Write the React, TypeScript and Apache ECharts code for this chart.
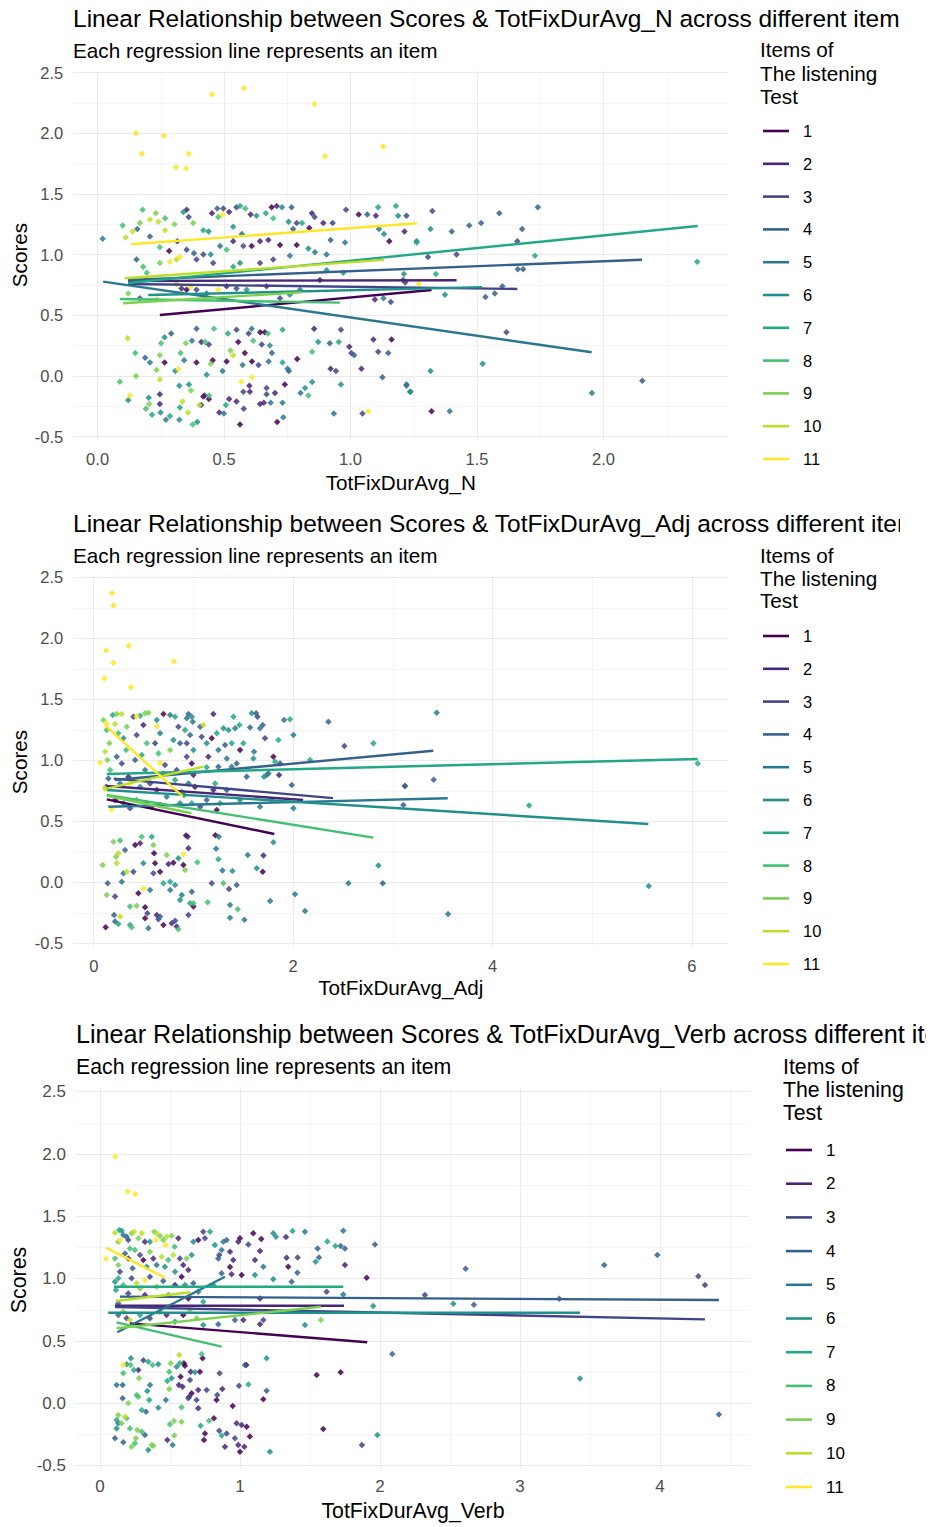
import React, { useEffect, useRef } from "react";
import * as echarts from "echarts";

// ---------------- data ----------------
const ITEMS = [1, 2, 3, 4, 5, 6, 7, 8, 9, 10, 11];
const ITEM_COLORS = ["#440154", "#482576", "#414487", "#35608D", "#2A788E", "#21908C", "#22A884", "#43BF71", "#7AD151", "#BBDF27", "#FDE725"];

const TITLE_N = "Linear Relationship between Scores & TotFixDurAvg_N across different items";
const TITLE_ADJ = "Linear Relationship between Scores & TotFixDurAvg_Adj across different items";
const TITLE_VERB = "Linear Relationship between Scores & TotFixDurAvg_Verb across different items";
const SUBTITLE = "Each regression line represents an item";
const LEGEND_TITLE = ["Items of", "The listening", "Test"];

const Y_TICKS = [-0.5, 0, 0.5, 1, 1.5, 2, 2.5];
const Y_MINOR = [-0.25, 0.25, 0.75, 1.25, 1.75, 2.25];
const X_TICKS_N = [0, 0.5, 1, 1.5, 2];
const X_MINOR_N = [0.25, 0.75, 1.25, 1.75, 2.25];
const X_TICKS_ADJ = [0, 2, 4, 6];
const X_MINOR_ADJ = [1, 3, 5];
const X_TICKS_VERB = [0, 1, 2, 3, 4];
const X_MINOR_VERB = [0.5, 1.5, 2.5, 3.5, 4.5];

// regression lines: [item, x0, y0, x1, y1]
const LINES_N = [
  [1, 0.246, 0.502, 1.32, 0.708],
  [2, 0.12, 0.783, 1.419, 0.789],
  [3, 0.12, 0.758, 1.659, 0.717],
  [4, 0.12, 0.791, 2.152, 0.958],
  [5, 0.022, 0.777, 1.953, 0.195],
  [6, 0.2, 0.667, 1.52, 0.732],
  [7, 0.12, 0.766, 2.372, 1.236],
  [8, 0.088, 0.634, 0.958, 0.604],
  [9, 0.101, 0.599, 0.806, 0.689],
  [10, 0.108, 0.805, 1.133, 0.956],
  [11, 0.132, 1.085, 1.262, 1.258],
];
const LINES_ADJ = [
  [1, 0.131, 0.68, 1.811, 0.396],
  [2, 0.13, 0.79, 2.1, 0.675],
  [3, 0.2, 0.85, 2.4, 0.69],
  [4, 0.214, 0.839, 3.406, 1.079],
  [5, 0.146, 0.62, 3.551, 0.689],
  [6, 0.13, 0.757, 5.563, 0.478],
  [7, 0.13, 0.888, 6.058, 1.011],
  [8, 0.13, 0.716, 2.804, 0.366],
  [9, 0.13, 0.71, 0.98, 0.566],
  [10, 0.096, 0.762, 1.099, 0.948],
  [11, 0.113, 1.289, 0.893, 0.702],
];
const LINES_VERB = [
  [1, 0.214, 0.642, 1.909, 0.49],
  [2, 0.107, 0.783, 1.743, 0.783],
  [3, 0.107, 0.772, 4.321, 0.674],
  [4, 0.143, 0.856, 4.421, 0.829],
  [5, 0.124, 0.57, 0.893, 1.016],
  [6, 0.059, 0.727, 3.429, 0.727],
  [7, 0.1, 0.936, 1.738, 0.936],
  [8, 0.119, 0.65, 0.869, 0.455],
  [9, 0.119, 0.602, 1.579, 0.775],
  [10, 0.114, 0.821, 0.643, 0.891],
  [11, 0.043, 1.249, 0.464, 1.008],
];

// scatter points: [x, y, item]
const POINTS_N = [
  [0.152, 2.0, 11], [0.262, 1.98, 11], [0.175, 1.83, 11], [0.36, 1.83, 11], [0.31, 1.72, 11], [0.35, 1.71, 11], [0.452, 2.32, 11], [0.578, 2.37, 11], [0.858, 2.24, 11], [0.899, 1.81, 11], [1.128, 1.89, 11], [0.494, 1.33, 11], [0.325, 0.98, 11], [0.368, 0.735, 11], [0.477, 0.71, 11], [0.568, -0.047, 11], [0.61, -0.01, 11], [0.319, 0.055, 11], [0.128, -0.16, 11], [1.07, -0.29, 11], [0.286, 0.94, 11], [1.27, 0.76, 11],
  [0.02, 1.13, 5], [0.099, 1.24, 8], [0.111, 1.14, 10], [0.138, 1.19, 10], [0.157, 1.21, 4], [0.178, 1.37, 8], [0.167, 1.26, 9], [0.207, 1.29, 10], [0.23, 1.34, 9], [0.24, 1.27, 10], [0.267, 1.3, 8], [0.267, 1.2, 10], [0.304, 1.25, 9], [0.339, 1.35, 6], [0.352, 1.37, 2], [0.36, 1.31, 3], [0.378, 1.26, 9], [0.418, 1.2, 7], [0.439, 1.19, 6], [0.452, 1.34, 2], [0.473, 1.38, 4], [0.497, 1.38, 3], [0.477, 1.31, 8], [0.52, 1.35, 2], [0.549, 1.39, 3], [0.563, 1.4, 7], [0.584, 1.38, 8], [0.536, 1.23, 6], [0.57, 1.17, 5], [0.605, 1.33, 2], [0.628, 1.32, 6], [0.665, 1.34, 7], [0.688, 1.39, 1], [0.708, 1.4, 2], [0.729, 1.39, 6], [0.767, 1.39, 4], [0.694, 1.3, 8], [0.755, 1.27, 6], [0.787, 1.26, 3], [0.808, 1.26, 7], [0.773, 1.21, 4], [0.847, 1.34, 2], [0.858, 1.31, 3], [0.837, 1.22, 1], [0.892, 1.26, 2], [0.929, 1.26, 3], [0.982, 1.37, 3], [1.032, 1.33, 1], [1.066, 1.33, 4], [1.1, 1.32, 2], [1.109, 1.39, 7], [1.112, 1.21, 5], [1.132, 1.17, 6], [1.179, 1.4, 7], [1.188, 1.32, 6], [1.221, 1.32, 3], [1.213, 1.19, 2], [1.153, 1.11, 1], [1.261, 1.11, 5],
  [0.207, 1.15, 4], [0.246, 1.06, 8], [0.283, 1.03, 1], [0.315, 1.11, 2], [0.352, 1.04, 3], [0.381, 1.01, 4], [0.418, 1.0, 3], [0.447, 1.0, 6], [0.484, 1.07, 5], [0.51, 1.04, 8], [0.536, 1.11, 2], [0.576, 1.07, 3], [0.609, 1.07, 1], [0.642, 1.11, 2], [0.675, 1.12, 2], [0.721, 1.08, 1], [0.787, 1.08, 1], [0.833, 1.05, 6], [0.859, 1.02, 5], [0.905, 1.0, 5], [0.978, 1.1, 5], [0.921, 1.12, 4], [0.76, 0.99, 5], [0.694, 0.96, 3], [0.642, 0.93, 3], [0.563, 0.93, 6], [0.536, 0.9, 7], [0.457, 0.93, 3], [0.391, 0.96, 3], [0.312, 0.96, 10], [0.246, 0.93, 9], [0.18, 0.9, 8], [0.154, 0.96, 4], [0.194, 0.85, 8], [0.121, 0.68, 9], [0.167, 0.64, 4], [0.233, 0.63, 10], [0.312, 0.76, 10], [0.332, 0.72, 2], [0.352, 0.71, 1], [0.391, 0.71, 3], [0.431, 0.68, 5], [0.51, 0.74, 2], [0.549, 0.72, 3], [0.589, 0.71, 6], [0.668, 0.74, 2], [0.721, 0.64, 3], [0.76, 0.67, 6], [0.8, 0.71, 5], [0.879, 0.79, 2], [0.905, 0.87, 6], [0.971, 0.85, 6], [1.096, 0.63, 2], [1.13, 0.64, 5], [1.159, 0.61, 3], [1.208, 0.79, 3],
  [1.323, 1.36, 3], [1.316, 1.21, 6], [1.261, 1.1, 7], [1.4, 1.19, 4], [1.469, 1.24, 4], [1.516, 1.26, 4], [1.588, 1.34, 4], [1.678, 1.21, 4], [1.659, 1.11, 3], [1.74, 1.39, 4], [1.729, 0.99, 7], [1.661, 0.88, 4], [1.682, 0.88, 4], [1.306, 0.98, 3], [1.419, 1.0, 3], [1.211, 0.84, 6], [1.337, 0.84, 7], [1.216, 0.77, 3], [1.373, 0.67, 6], [1.533, 0.65, 4], [1.57, 0.68, 4], [1.6, 0.74, 4], [2.37, 0.94, 7],
  [1.616, 0.36, 3], [1.522, 0.1, 6], [1.316, 0.04, 6], [1.221, -0.08, 5], [1.237, -0.13, 6], [1.32, -0.29, 1], [1.392, -0.29, 5], [1.954, -0.14, 5], [2.153, -0.04, 4],
  [0.088, -0.047, 8], [0.119, 0.31, 10], [0.149, 0.19, 8], [0.152, 0.0, 9], [0.121, -0.2, 6], [0.188, 0.15, 4], [0.207, 0.11, 5], [0.202, -0.18, 6], [0.204, -0.23, 9], [0.191, -0.27, 8], [0.215, -0.32, 7], [0.246, 0.17, 9], [0.251, 0.27, 8], [0.233, 0.05, 9], [0.246, -0.03, 10], [0.246, -0.15, 2], [0.246, -0.23, 2], [0.249, -0.3, 6], [0.265, 0.32, 6], [0.265, 0.11, 1], [0.27, -0.36, 5], [0.286, -0.33, 7], [0.291, 0.35, 4], [0.307, 0.04, 6], [0.328, 0.19, 8], [0.342, 0.13, 5], [0.323, -0.08, 6], [0.325, -0.26, 7], [0.323, -0.36, 6], [0.336, -0.21, 10], [0.349, 0.27, 9], [0.357, -0.3, 10], [0.361, -0.07, 6], [0.369, -0.12, 9], [0.376, -0.4, 8], [0.373, 0.29, 5], [0.391, 0.39, 4], [0.391, 0.11, 1], [0.394, -0.38, 6], [0.41, 0.28, 2], [0.41, -0.24, 3], [0.402, -0.24, 10], [0.418, -0.17, 1], [0.425, 0.28, 8], [0.431, 0.01, 6], [0.423, -0.16, 2], [0.44, 0.26, 3], [0.44, -0.19, 1], [0.441, -0.16, 8], [0.447, 0.1, 9], [0.455, 0.13, 1], [0.46, 0.39, 8], [0.481, -0.3, 2], [0.494, 0.04, 5], [0.507, -0.24, 7], [0.499, -0.31, 5], [0.51, 0.12, 1], [0.515, 0.35, 7], [0.525, 0.21, 9], [0.536, 0.17, 10], [0.52, -0.19, 2], [0.549, 0.38, 3], [0.549, -0.21, 2], [0.556, 0.28, 1], [0.563, -0.4, 1], [0.573, 0.09, 5], [0.576, -0.13, 3], [0.578, -0.27, 3], [0.582, 0.19, 1], [0.597, 0.35, 3], [0.6, -0.08, 2], [0.602, -0.13, 2], [0.609, 0.39, 5], [0.61, 0.12, 1], [0.615, 0.29, 8], [0.636, 0.09, 3], [0.642, -0.23, 2], [0.643, 0.36, 1], [0.649, 0.26, 3], [0.657, -0.22, 2], [0.661, 0.36, 1], [0.668, -0.1, 3], [0.668, -0.15, 3], [0.673, 0.35, 8], [0.676, 0.12, 5], [0.681, 0.25, 6], [0.689, 0.19, 4], [0.684, -0.22, 5], [0.701, -0.14, 2], [0.71, -0.38, 1], [0.734, -0.34, 5], [0.731, -0.22, 5], [0.731, 0.11, 7], [0.731, 0.38, 7], [0.74, -0.07, 1], [0.751, 0.06, 5], [0.756, 0.04, 4], [0.789, 0.14, 1], [0.802, -0.14, 5], [0.82, -0.1, 6], [0.833, -0.16, 8], [0.848, 0.2, 8], [0.848, -0.05, 6], [0.856, 0.39, 2], [0.872, 0.28, 6], [0.918, 0.27, 4], [0.921, 0.06, 2], [0.934, -0.31, 5], [0.942, 0.04, 3], [0.953, 0.28, 7], [0.962, 0.38, 3], [0.962, -0.07, 6], [0.995, 0.24, 2], [1.003, 0.19, 3], [1.014, 0.17, 4], [1.043, 0.06, 2], [1.047, -0.31, 3], [1.09, 0.3, 2], [1.109, 0.2, 3], [1.126, -0.01, 4], [1.149, 0.19, 4], [1.162, 0.3, 1], [1.221, -0.07, 4], [1.235, -0.13, 5],
];

const POINTS_ADJ = [
  [0.184, 2.37, 11], [0.197, 2.27, 11], [0.124, 1.9, 11], [0.197, 1.8, 11], [0.351, 1.94, 11], [0.806, 1.81, 11], [0.107, 1.67, 11], [0.374, 1.6, 11], [0.13, 1.3, 11], [0.665, 0.98, 11], [0.632, 1.28, 11], [0.364, 0.81, 11], [0.18, 0.6, 11], [0.9, 0.23, 11], [0.5, -0.05, 11], [0.064, 0.98, 11], [0.11, 0.77, 11], [0.43, 1.36, 11],
  [0.097, 1.331, 9], [0.13, 1.249, 8], [0.157, 1.139, 9], [0.114, 1.071, 10], [0.137, 1.003, 9], [0.164, 0.921, 8], [0.147, 0.852, 4], [0.124, 0.784, 3], [0.191, 1.372, 7], [0.231, 1.38, 9], [0.281, 1.38, 10], [0.214, 1.298, 10], [0.247, 1.221, 8], [0.298, 1.18, 6], [0.331, 1.276, 9], [0.324, 1.085, 8], [0.231, 1.03, 4], [0.281, 0.975, 3], [0.348, 0.866, 2], [0.264, 0.811, 5], [0.214, 0.675, 1], [0.298, 0.648, 6], [0.364, 0.607, 3], [0.431, 0.675, 8],
  [0.398, 1.358, 3], [0.465, 1.366, 7], [0.515, 1.385, 9], [0.548, 1.391, 9], [0.498, 1.29, 2], [0.431, 1.208, 3], [0.532, 1.139, 8], [0.481, 1.044, 7], [0.415, 1.003, 4], [0.515, 0.921, 5], [0.565, 0.811, 3], [0.465, 0.784, 6], [0.582, 0.62, 2], [0.532, 0.648, 1],
  [0.632, 1.331, 6], [0.699, 1.38, 1], [0.665, 1.221, 5], [0.615, 1.139, 3], [0.649, 1.057, 8], [0.715, 0.962, 3], [0.699, 0.893, 6], [0.632, 0.757, 2], [0.732, 0.702, 5], [0.665, 0.634, 1], [0.766, 1.372, 5], [0.816, 1.358, 7], [0.849, 1.276, 3], [0.799, 1.167, 6], [0.766, 1.085, 9], [0.866, 1.139, 4], [0.832, 0.921, 3], [0.816, 0.839, 7], [0.883, 0.743, 8], [0.866, 0.648, 6],
  [0.933, 1.344, 5], [0.95, 1.38, 4], [0.983, 1.358, 6], [0.993, 1.317, 5], [0.916, 1.249, 7], [0.966, 1.208, 4], [0.933, 1.139, 3], [1.0, 1.085, 6], [0.933, 1.03, 3], [0.983, 0.975, 1], [1.0, 0.88, 2], [0.95, 0.811, 5], [0.906, 0.716, 6], [0.983, 0.648, 7], [1.016, 0.784, 1],
  [1.067, 1.276, 4], [1.083, 1.194, 3], [1.1, 1.29, 10], [1.133, 1.139, 6], [1.15, 1.03, 2], [1.184, 1.18, 1], [1.2, 1.38, 2], [1.234, 1.221, 7], [1.25, 1.085, 5], [1.217, 0.811, 7], [1.25, 0.948, 4], [1.301, 1.262, 6], [1.317, 1.126, 4], [1.334, 1.016, 5], [1.351, 1.249, 6], [1.384, 1.139, 7], [1.401, 1.358, 7], [1.418, 1.262, 5], [1.384, 0.948, 5], [1.461, 1.29, 7], [1.468, 1.085, 1], [1.501, 1.139, 7], [1.535, 0.866, 4], [1.568, 1.27, 4], [1.585, 1.385, 6], [1.601, 1.016, 6], [1.608, 1.071, 5], [1.628, 1.385, 4], [1.642, 1.358, 3], [1.668, 1.262, 5], [1.695, 1.29, 4], [1.718, 1.18, 3], [1.735, 0.88, 5], [1.752, 0.893, 4], [1.802, 1.03, 1], [1.852, 1.167, 7], [1.859, 0.88, 2], [1.869, 0.975, 3], [1.909, 1.331, 5], [1.969, 1.336, 7], [2.003, 1.208, 5], [1.986, 0.798, 4], [2.003, 0.607, 5], [2.17, 1.003, 7], [2.354, 1.317, 4], [2.514, 1.117, 3], [2.805, 1.139, 7], [3.123, 0.79, 4], [3.106, 0.634, 4],
  [1.668, 0.62, 5], [1.785, 0.675, 6], [1.468, 0.675, 6], [1.334, 0.757, 4], [1.267, 0.648, 7], [1.067, 0.62, 3], [1.133, 0.675, 4], [1.2, 0.757, 2], [1.819, 0.989, 7], [1.708, 0.866, 6], [1.434, 0.975, 4], [1.234, 0.593, 1], [1.133, 0.943, 7],
  [3.44, 1.39, 5], [3.12, 0.79, 4], [3.41, 0.84, 4], [4.367, 0.63, 7], [3.554, -0.26, 5], [5.567, -0.03, 6], [6.058, 0.975, 7],
  [0.09, 0.142, 9], [0.13, -0.104, 9], [0.14, -0.008, 4], [0.204, -0.268, 4], [0.214, -0.322, 4], [0.247, -0.342, 7], [0.12, -0.369, 1], [0.264, -0.281, 10], [0.214, -0.117, 3], [0.231, 0.156, 10], [0.224, 0.21, 9], [0.247, 0.238, 10], [0.264, 0.342, 8], [0.197, 0.333, 9], [0.314, 0.265, 4], [0.298, 0.074, 5], [0.281, 0.005, 5], [0.331, 0.087, 10], [0.364, -0.199, 8], [0.364, -0.35, 7], [0.381, -0.369, 8], [0.398, 0.087, 3], [0.415, 0.306, 1], [0.431, -0.191, 9], [0.448, -0.09, 1], [0.465, 0.32, 2], [0.481, 0.374, 8], [0.498, 0.156, 6], [0.515, -0.205, 1], [0.538, -0.254, 3], [0.515, -0.295, 1], [0.548, -0.377, 5], [0.565, -0.063, 5], [0.582, 0.374, 7], [0.598, 0.306, 9], [0.605, 0.238, 1], [0.598, 0.074, 3], [0.615, 0.156, 1], [0.632, -0.268, 2], [0.649, -0.303, 3], [0.665, -0.281, 4], [0.665, 0.087, 1], [0.699, -0.008, 7], [0.699, -0.35, 1], [0.732, 0.224, 9], [0.749, 0.15, 2], [0.766, 0.005, 7], [0.766, -0.063, 5], [0.782, -0.336, 2], [0.799, 0.161, 1], [0.816, -0.314, 3], [0.816, -0.022, 6], [0.832, -0.363, 2], [0.849, -0.385, 8], [0.849, 0.197, 6], [0.866, -0.145, 6], [0.883, -0.104, 5], [0.899, 0.142, 1], [0.916, 0.101, 9], [0.926, 0.383, 1], [0.943, 0.374, 2], [0.95, 0.279, 2], [0.95, -0.268, 3], [0.966, -0.172, 7], [0.983, -0.077, 4], [1.0, -0.172, 8], [1.0, -0.199, 1], [1.04, 0.164, 8], [1.143, -0.164, 8], [1.184, -0.008, 3], [1.22, 0.385, 1], [1.254, 0.374, 5], [1.227, 0.276, 5], [1.25, 0.189, 7], [1.291, 0.096, 5], [1.301, -0.008, 8], [1.357, -0.055, 3], [1.367, -0.186, 5], [1.391, 0.093, 6], [1.444, -0.221, 8], [1.434, -0.022, 4], [1.367, -0.29, 5], [1.511, -0.306, 5], [1.545, 0.224, 5], [1.635, 0.115, 6], [1.695, 0.087, 1], [1.702, 0.219, 2], [1.769, -0.153, 5], [1.802, 0.328, 6], [2.019, -0.098, 5], [2.12, -0.235, 5], [2.554, -0.008, 5], [2.855, 0.137, 6], [2.899, -0.008, 4],
];

const POINTS_VERB = [
  [0.11, 1.98, 11], [0.198, 1.7, 11], [0.252, 1.68, 11], [0.043, 1.16, 11], [0.167, 0.31, 11], [0.4, 1.31, 11], [0.32, 0.99, 11], [0.47, 1.27, 11], [0.143, 1.31, 11],
  [0.107, 1.369, 10], [0.138, 1.39, 7], [0.155, 1.385, 6], [0.167, 1.35, 5], [0.131, 1.297, 9], [0.19, 1.337, 4], [0.202, 1.31, 3], [0.226, 1.364, 9], [0.243, 1.377, 10], [0.214, 1.243, 8], [0.274, 1.324, 9], [0.298, 1.364, 10], [0.321, 1.297, 2], [0.357, 1.297, 6], [0.388, 1.377, 9], [0.405, 1.364, 10], [0.429, 1.342, 9], [0.452, 1.31, 9], [0.476, 1.337, 10], [0.512, 1.345, 9], [0.533, 1.257, 8], [0.56, 1.324, 2],
  [0.107, 1.163, 8], [0.131, 1.11, 9], [0.143, 1.056, 3], [0.179, 1.203, 4], [0.202, 1.163, 2], [0.233, 1.083, 4], [0.25, 1.23, 8], [0.286, 1.19, 3], [0.31, 1.15, 1], [0.333, 1.096, 6], [0.357, 1.217, 9], [0.381, 1.163, 2], [0.405, 1.11, 5], [0.44, 1.176, 10], [0.464, 1.096, 6], [0.488, 1.15, 8], [0.524, 1.19, 10], [0.536, 1.056, 6], [0.571, 1.163, 3], [0.595, 1.11, 2], [0.619, 1.163, 9], [0.631, 1.07, 2], [0.655, 1.19, 6], [0.667, 1.297, 6], [0.702, 1.31, 1], [0.738, 1.377, 3], [0.75, 1.324, 3], [0.786, 1.377, 7], [0.821, 1.27, 6], [0.845, 1.163, 4], [0.852, 1.19, 3], [0.869, 1.23, 5], [0.881, 1.297, 5], [0.905, 1.31, 4], [0.929, 1.217, 2], [0.952, 1.15, 2], [0.929, 1.094, 1], [0.988, 1.297, 2], [1.0, 1.324, 1], [1.06, 1.275, 3], [1.095, 1.364, 1], [1.143, 1.222, 2], [1.152, 1.318, 1], [1.107, 1.15, 2], [1.167, 1.096, 5], [1.238, 1.364, 6], [1.257, 1.337, 6], [1.329, 1.334, 2], [1.333, 1.168, 2], [1.345, 1.096, 1], [1.376, 1.382, 7], [1.412, 1.171, 3], [1.41, 1.048, 4], [1.464, 1.377, 5], [1.555, 1.243, 4], [1.564, 1.171, 4], [1.54, 1.136, 6], [1.624, 1.299, 7], [1.681, 1.262, 7], [1.719, 1.262, 4], [1.738, 1.385, 5], [1.75, 1.243, 4], [1.75, 1.11, 2], [1.964, 1.275, 4],
  [0.107, 0.976, 6], [0.114, 0.909, 7], [0.131, 1.003, 7], [0.167, 0.949, 8], [0.202, 0.882, 3], [0.226, 1.003, 3], [0.262, 0.963, 10], [0.286, 0.922, 9], [0.321, 0.869, 2], [0.357, 1.016, 3], [0.405, 0.936, 9], [0.452, 0.981, 4], [0.488, 0.869, 7], [0.536, 0.949, 2], [0.583, 1.016, 1], [0.607, 0.949, 6], [0.631, 0.842, 1], [0.667, 0.963, 4], [0.702, 0.896, 5], [0.738, 0.816, 7], [0.81, 0.949, 6], [0.869, 1.043, 4], [0.94, 1.035, 2], [1.012, 1.029, 1], [1.107, 1.029, 6], [1.143, 0.842, 2], [1.238, 0.995, 6], [1.369, 0.976, 4], [1.619, 0.896, 3], [1.738, 0.874, 5], [1.905, 1.008, 1], [1.952, 0.781, 6],
  [0.131, 0.802, 4], [0.131, 0.709, 4], [0.167, 0.735, 9], [0.19, 0.682, 3], [0.214, 0.668, 10], [0.286, 0.709, 7], [0.357, 0.682, 3], [0.429, 0.735, 8], [0.476, 0.709, 2], [0.536, 0.655, 6], [0.595, 0.709, 1], [0.643, 0.749, 9], [0.69, 0.682, 9], [0.738, 0.628, 6], [0.845, 0.634, 4], [0.964, 0.668, 4], [1.024, 0.668, 2], [1.143, 0.634, 2], [1.167, 0.668, 3], [1.464, 0.628, 6], [1.579, 0.668, 9],
  [2.321, 0.869, 3], [2.612, 1.08, 4], [2.524, 0.8, 6], [2.671, 0.79, 4], [3.281, 0.84, 4], [3.429, 0.2, 6], [3.602, 1.11, 4], [3.981, 1.19, 4], [4.274, 1.02, 3], [4.321, 0.95, 3], [4.421, -0.09, 4],
  [0.107, -0.281, 4], [0.119, -0.201, 6], [0.119, -0.134, 7], [0.131, -0.094, 9], [0.131, -0.16, 5], [0.155, -0.16, 9], [0.167, -0.313, 4], [0.179, -0.107, 10], [0.19, -0.12, 8], [0.202, 0.0, 9], [0.214, -0.201, 8], [0.226, -0.348, 9], [0.25, -0.321, 8], [0.257, -0.281, 9], [0.267, -0.214, 9], [0.298, -0.227, 8], [0.321, -0.254, 4], [0.345, -0.374, 6], [0.369, -0.334, 9], [0.381, -0.34, 9],
  [0.119, 0.147, 5], [0.162, 0.147, 4], [0.162, 0.04, 4], [0.167, 0.241, 8], [0.19, 0.313, 6], [0.221, 0.361, 6], [0.219, 0.307, 8], [0.243, 0.267, 7], [0.274, 0.267, 2], [0.279, 0.201, 9], [0.262, 0.067, 8], [0.274, 0.053, 8], [0.298, -0.053, 7], [0.329, -0.067, 4], [0.31, 0.345, 3], [0.345, 0.334, 7], [0.352, 0.027, 7], [0.338, 0.099, 6], [0.357, 0.147, 5], [0.376, 0.307, 8], [0.417, 0.313, 6], [0.417, -0.035, 6], [0.471, 0.027, 5], [0.481, 0.179, 7], [0.495, 0.254, 8], [0.512, 0.201, 6], [0.495, 0.115, 9], [0.505, 0.321, 9], [0.5, -0.168, 8], [0.519, -0.334, 5], [0.481, -0.294, 2], [0.531, -0.259, 9], [0.529, -0.142, 9], [0.548, 0.294, 6], [0.567, 0.388, 10], [0.571, 0.321, 7], [0.583, -0.032, 8], [0.583, -0.147, 9], [0.576, 0.214, 1], [0.59, 0.134, 2], [0.564, 0.147, 2], [0.6, 0.321, 1], [0.607, 0.302, 1],
  [0.631, 0.04, 3], [0.638, 0.053, 2], [0.655, 0.08, 1], [0.643, 0.187, 3], [0.648, 0.254, 2], [0.679, 0.249, 6], [0.69, 0.027, 3], [0.702, 0.107, 2], [0.702, -0.04, 2], [0.726, 0.396, 8], [0.733, 0.361, 1], [0.743, -0.294, 1], [0.75, -0.241, 1], [0.719, -0.179, 7], [0.714, 0.254, 1], [0.762, 0.107, 3], [0.779, -0.139, 8], [0.814, -0.12, 1], [0.838, 0.067, 3], [0.833, 0.027, 1], [0.852, -0.219, 3], [0.869, -0.259, 7], [0.874, 0.115, 2], [0.855, 0.241, 3], [0.893, -0.348, 2], [0.905, -0.241, 3], [0.948, -0.021, 1], [0.964, -0.281, 3], [0.976, -0.16, 2], [0.988, -0.334, 2], [0.993, 0.142, 3], [1.012, -0.174, 2], [1.0, -0.388, 1], [1.031, -0.348, 2], [1.036, 0.307, 4], [1.045, 0.307, 1], [1.048, -0.187, 1], [1.06, 0.152, 7], [1.071, -0.267, 1], [1.167, 0.032, 1], [1.19, 0.102, 4], [1.19, 0.361, 6], [1.214, -0.388, 6], [1.548, 0.227, 1], [1.595, -0.206, 1], [1.719, 0.249, 1], [1.871, -0.334, 3], [1.981, -0.254, 6], [2.088, 0.396, 4],
];

// ---------------- layout / style config ----------------
const FONT = "'Liberation Sans', Arial, Helvetica, sans-serif";

type PanelCfg = {
  top: number; width: number; height: number;
  title: string; xName: string;
  points: number[][]; lines: number[][];
  xTicks: number[]; xMinor: number[]; xDigits: number;
  xMin: number; xMax: number; yMin: number; yMax: number;
  gridLeft: number; gridRight: number; gridTop: number; gridBottom: number;
  textX: number; titleY: number; subY: number; titleSize: number; subSize: number;
  tickSize: number; xLabelMargin: number;
  xTitleY: number; yTitleY: number;
  legX: number; legTitleY: number[]; legY0: number; legDy: number; legKeyX: number; legLabelX: number;
};

const PANELS: PanelCfg[] = [
  {
    top: 0, width: 900, height: 505, title: TITLE_N, xName: "TotFixDurAvg_N",
    points: POINTS_N, lines: LINES_N, xTicks: X_TICKS_N, xMinor: X_MINOR_N, xDigits: 1,
    xMin: -0.096, xMax: 2.493, yMin: -0.53, yMax: 2.51,
    gridLeft: 73.3, gridRight: 728.3, gridTop: 71.3, gridBottom: 440.3,
    textX: 73, titleY: 18, subY: 50, titleSize: 24.5, subSize: 20.7, tickSize: 16.5, xLabelMargin: 10,
    xTitleY: 482, yTitleY: 255,
    legX: 760, legTitleY: [49, 73, 96], legY0: 131, legDy: 32.8, legKeyX: 763, legLabelX: 803,
  },
  {
    top: 505, width: 900, height: 505, title: TITLE_ADJ, xName: "TotFixDurAvg_Adj",
    points: POINTS_ADJ, lines: LINES_ADJ, xTicks: X_TICKS_ADJ, xMinor: X_MINOR_ADJ, xDigits: 0,
    xMin: -0.205, xMax: 6.365, yMin: -0.53, yMax: 2.51,
    gridLeft: 73.3, gridRight: 728.3, gridTop: 71.1, gridBottom: 442,
    textX: 73, titleY: 18, subY: 50, titleSize: 24.5, subSize: 20.7, tickSize: 16.5, xLabelMargin: 10,
    xTitleY: 482, yTitleY: 257,
    legX: 760, legTitleY: [50, 73, 95], legY0: 131, legDy: 32.8, legKeyX: 763, legLabelX: 803,
  },
  {
    top: 1010, width: 926, height: 517, title: TITLE_VERB, xName: "TotFixDurAvg_Verb",
    points: POINTS_VERB, lines: LINES_VERB, xTicks: X_TICKS_VERB, xMinor: X_MINOR_VERB, xDigits: 0,
    xMin: -0.171, xMax: 4.643, yMin: -0.53, yMax: 2.53,
    gridLeft: 76, gridRight: 750, gridTop: 78, gridBottom: 459.4,
    textX: 76, titleY: 24, subY: 57, titleSize: 25.2, subSize: 21.3, tickSize: 17, xLabelMargin: 9,
    xTitleY: 501, yTitleY: 270,
    legX: 783, legTitleY: [57, 80, 103], legY0: 140, legDy: 33.7, legKeyX: 786, legLabelX: 826,
  },
];

function buildOption(c: PanelCfg) {
  const gridW = c.gridRight - c.gridLeft;
  const gridH = c.gridBottom - c.gridTop;
  const hiddenAxis = { show: false };
  const majorSplit = { show: true, lineStyle: { color: "#EBEBEB", width: 1.1 } };
  const minorSplit = { show: true, lineStyle: { color: "#EFEFEF", width: 0.6 } };

  const scatterSeries = ITEMS.map((it, i) => ({
    type: "scatter",
    name: String(it),
    xAxisIndex: 0,
    yAxisIndex: 0,
    symbol: "diamond",
    symbolSize: 6.5,
    silent: true,
    itemStyle: { color: ITEM_COLORS[i], opacity: 0.85 },
    data: c.points.filter((p) => p[2] === it).map((p) => [p[0], p[1]]),
    z: 2,
  }));
  const lineSeries = c.lines.map((l) => ({
    type: "line",
    name: "line" + l[0],
    xAxisIndex: 0,
    yAxisIndex: 0,
    symbol: "none",
    showSymbol: false,
    silent: true,
    lineStyle: { color: ITEM_COLORS[l[0] - 1], width: 2.4 },
    data: [[l[1], l[2]], [l[3], l[4]]],
    z: 3,
  }));

  const graphics: any[] = [
    { type: "text", x: c.textX, y: c.titleY, style: { text: c.title, fontSize: c.titleSize, fontFamily: FONT, fill: "#000", align: "left", verticalAlign: "middle" } },
    { type: "text", x: c.textX, y: c.subY, style: { text: SUBTITLE, fontSize: c.subSize, fontFamily: FONT, fill: "#000", align: "left", verticalAlign: "middle" } },
    { type: "text", x: (c.gridLeft + c.gridRight) / 2, y: c.xTitleY, style: { text: c.xName, fontSize: c.subSize, fontFamily: FONT, fill: "#000", align: "center", verticalAlign: "middle" } },
    { type: "text", x: 19, y: c.yTitleY, rotation: Math.PI / 2, style: { text: "Scores", fontSize: c.subSize, fontFamily: FONT, fill: "#000", align: "center", verticalAlign: "middle" } },
  ];
  LEGEND_TITLE.forEach((t, k) => {
    graphics.push({ type: "text", x: c.legX, y: c.legTitleY[k], style: { text: t, fontSize: c.subSize, fontFamily: FONT, fill: "#000", align: "left", verticalAlign: "middle" } });
  });
  ITEMS.forEach((it, i) => {
    const y = c.legY0 + i * c.legDy;
    graphics.push({ type: "line", shape: { x1: c.legKeyX, y1: y, x2: c.legKeyX + 26, y2: y }, style: { stroke: ITEM_COLORS[i], lineWidth: 2.6 } });
    graphics.push({ type: "text", x: c.legLabelX, y, style: { text: String(it), fontSize: c.tickSize, fontFamily: FONT, fill: "#000", align: "left", verticalAlign: "middle" } });
  });

  return {
    animation: false,
    backgroundColor: "#ffffff",
    grid: [{ left: c.gridLeft, top: c.gridTop, width: gridW, height: gridH, containLabel: false }],
    xAxis: [
      {
        type: "value", gridIndex: 0, position: "bottom", min: c.xMin, max: c.xMax,
        axisLine: hiddenAxis,
        axisTick: { show: false, customValues: c.xTicks },
        axisLabel: {
          customValues: c.xTicks, color: "#4D4D4D", fontSize: c.tickSize, fontFamily: FONT, margin: c.xLabelMargin,
          formatter: (v: number) => v.toFixed(c.xDigits),
        },
        splitLine: majorSplit,
      },
      {
        type: "value", gridIndex: 0, position: "top", min: c.xMin, max: c.xMax,
        axisLine: hiddenAxis,
        axisTick: { show: false, customValues: c.xMinor },
        axisLabel: { show: false, customValues: c.xMinor },
        splitLine: minorSplit,
      },
    ],
    yAxis: [
      {
        type: "value", gridIndex: 0, position: "left", min: c.yMin, max: c.yMax,
        axisLine: hiddenAxis,
        axisTick: { show: false, customValues: Y_TICKS },
        axisLabel: {
          customValues: Y_TICKS, color: "#4D4D4D", fontSize: c.tickSize, fontFamily: FONT, margin: 10,
          formatter: (v: number) => v.toFixed(1),
        },
        splitLine: majorSplit,
      },
      {
        type: "value", gridIndex: 0, position: "right", min: c.yMin, max: c.yMax,
        axisLine: hiddenAxis,
        axisTick: { show: false, customValues: Y_MINOR },
        axisLabel: { show: false, customValues: Y_MINOR },
        splitLine: minorSplit,
      },
    ],
    series: [...scatterSeries, ...lineSeries],
    graphic: graphics,
  };
}

function Panel({ cfg }: { cfg: PanelCfg }) {
  const ref = useRef<HTMLDivElement>(null);
  useEffect(() => {
    if (!ref.current) return;
    const chart = echarts.init(ref.current, null, { renderer: "svg" });
    chart.setOption(buildOption(cfg) as any);
    return () => chart.dispose();
  }, [cfg]);
  return (
    <div
      ref={ref}
      style={{ position: "absolute", left: 0, top: cfg.top, width: cfg.width, height: cfg.height, overflow: "hidden" }}
    />
  );
}

export default function App() {
  return (
    <div style={{ position: "absolute", left: 0, top: 0, width: 930, height: 1527, background: "#ffffff", overflow: "hidden" }}>
      {PANELS.map((p, i) => (
        <Panel key={i} cfg={p} />
      ))}
    </div>
  );
}
